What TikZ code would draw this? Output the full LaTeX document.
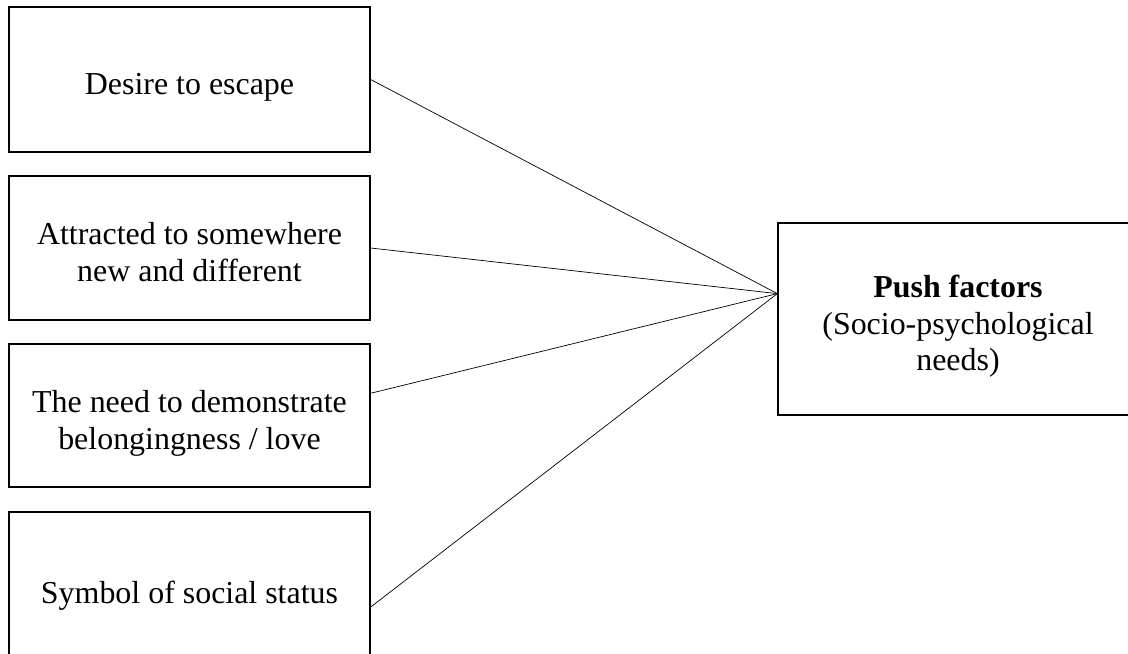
\documentclass[tikz,border=0pt]{standalone}
\usepackage{fontspec}
\setmainfont{Liberation Serif}
% top and bottom of a line as Word sets it
\newcommand{\pftop}{\rule{0pt}{1.17em}}
\newcommand{\pfbot}{\rule[-0.216em]{0pt}{0.216em}}
\tikzset{
  pfbox/.style={
    draw, line width=0.9pt, align=center, inner sep=4pt,
    minimum width=9.025cm, font=\fontsize{22.7}{26.1}\selectfont},
  pfline/.style={draw, line width=0.5pt},
}

\begin{document}
\begin{tikzpicture}[x=0.025cm, y=-0.025cm]

\clip (0, 0) rectangle (1128, 653);

% The four needs on the left.
\node[pfbox, minimum height=3.625cm] (escape) at (189.5, 79.5)
  {\pftop Desire to escape\pfbot};
\node[pfbox, minimum height=3.6cm] (novelty) at (189.5, 248)
  {\pftop Attracted to somewhere\\new and different\pfbot};
\node[pfbox, minimum height=3.575cm] (belong) at (189.5, 415.5)
  {\pftop The need to demonstrate\\belongingness / love\pfbot};
\node[pfbox, minimum height=3.8cm] (status) at (189.5, 588)
  {\pftop Symbol of social status\pfbot};

% The push factors box on the right.
\node[pfbox, minimum width=9cm, minimum height=4.8cm] (push) at (958, 319)
  {\pftop\textbf{Push factors}\\(Socio-psychological\\needs)\pfbot};

% All needs meet at one point on the push factors box.
\coordinate (meet) at (push.172.7);
\draw[pfline] (escape.east) -- (meet);
\draw[pfline] (novelty.east) -- (meet);
\draw[pfline] (belong.7.4) -- (meet);
\draw[pfline] (status.-6) -- (meet);

\end{tikzpicture}
\end{document}
